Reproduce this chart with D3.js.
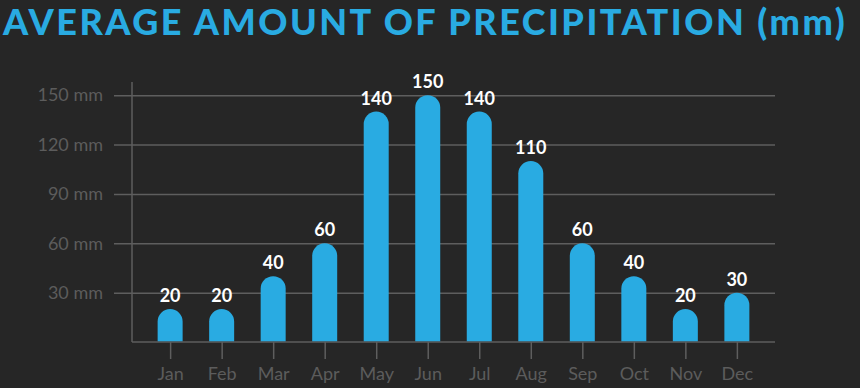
<!DOCTYPE html>
<html>
<head>
<meta charset="utf-8">
<script src="https://cdn.jsdelivr.net/npm/d3@7"></script>
<style>
  html, body { margin: 0; padding: 0; background: #262626; }
  svg { display: block; }
  #title {
    position: absolute; left: 3px; top: 1px;
    font-family: Lato, 'Open Sans', sans-serif;
    font-weight: 900; font-size: 36px; line-height: 40px;
    color: #29abe2; white-space: nowrap;
  }
</style>
</head>
<body>
<script>
// data
const months = ["Jan", "Feb", "Mar", "Apr", "May", "Jun", "Jul", "Aug", "Sep", "Oct", "Nov", "Dec"];
const precipitation = [20, 20, 40, 60, 140, 150, 140, 110, 60, 40, 20, 30];
const yTicks = [30, 60, 90, 120, 150];
const title = "AVERAGE AMOUNT OF PRECIPITATION (mm)";

const width = 860;
const height = 388;
const margin = { top: 82, right: 85, bottom: 46, left: 132 };
const blue = "#29abe2";
const gridColor = "#5e5e5e";
const labelColor = "#5c5c5c";

const svg = d3.select("body")
  .append("svg")
  .attr("width", width)
  .attr("height", height);

svg.append("rect")
  .attr("width", width)
  .attr("height", height)
  .attr("fill", "#262626");

// title as html, letter-spaced to fill the width
const t = d3.select("body").append("div")
  .attr("id", "title")
  .text(title);
const tw = t.node().getBoundingClientRect().width;
t.style("letter-spacing", ((844 - tw) / title.length).toFixed(2) + "px");

// scales
const x = d3.scalePoint()
  .domain(months)
  .range([margin.left, width - margin.right])
  .padding(0.74);

const y = d3.scaleLinear()
  .domain([0, 158])
  .range([height - margin.bottom, margin.top]);

const barW = 25;

// horizontal grid lines + y labels
const yAxis = svg.append("g")
  .attr("transform", `translate(${margin.left}, 0)`)
  .call(d3.axisLeft(y)
    .tickValues(yTicks)
    .tickSize(-(width - margin.right - margin.left))
    .tickFormat(d => d + " mm"));
yAxis.select(".domain").remove();
yAxis.selectAll(".tick line")
  .attr("x1", -18)
  .attr("stroke", gridColor)
  .attr("stroke-width", 1.5);
yAxis.selectAll(".tick text")
  .attr("x", -29)
  .attr("fill", labelColor)
  .style("font-family", "Lato, sans-serif")
  .style("font-size", "18px");

// x axis
const xAxis = svg.append("g")
  .attr("transform", `translate(0, ${y(0)})`)
  .call(d3.axisBottom(x).tickSize(17).tickPadding(8));
xAxis.select(".domain")
  .attr("d", `M${margin.left},0H${width - margin.right}`)
  .attr("stroke", gridColor)
  .attr("stroke-width", 1.5);
xAxis.selectAll(".tick line")
  .attr("stroke", gridColor)
  .attr("stroke-width", 1.5);
xAxis.selectAll(".tick text")
  .attr("fill", labelColor)
  .style("font-family", "Lato, sans-serif")
  .style("font-size", "18px");

// vertical axis line
svg.append("line")
  .attr("x1", margin.left).attr("x2", margin.left)
  .attr("y1", y(0)).attr("y2", margin.top)
  .attr("stroke", gridColor)
  .attr("stroke-width", 1.5);

// bars with round tops
const r = barW / 2;
svg.selectAll("path.bar")
  .data(months.map((m, i) => ({ m, v: precipitation[i] })))
  .enter()
  .append("path")
  .attr("class", "bar")
  .attr("fill", blue)
  .attr("d", d => {
    const x0 = x(d.m) - r, x1 = x(d.m) + r;
    const top = y(d.v), base = y(0) - 0.75;
    return `M${x0},${base}V${top + r}A${r},${r} 0 0 1 ${x1},${top + r}V${base}Z`;
  });

// value labels
svg.selectAll("text.val")
  .data(months.map((m, i) => ({ m, v: precipitation[i] })))
  .enter()
  .append("text")
  .attr("class", "val")
  .attr("x", d => x(d.m))
  .attr("y", d => y(d.v) - 7)
  .attr("text-anchor", "middle")
  .attr("fill", "#ffffff")
  .style("font-family", "Lato, sans-serif")
  .style("font-weight", "700")
  .style("font-size", "18px")
  .text(d => d.v);
</script>
</body>
</html>
